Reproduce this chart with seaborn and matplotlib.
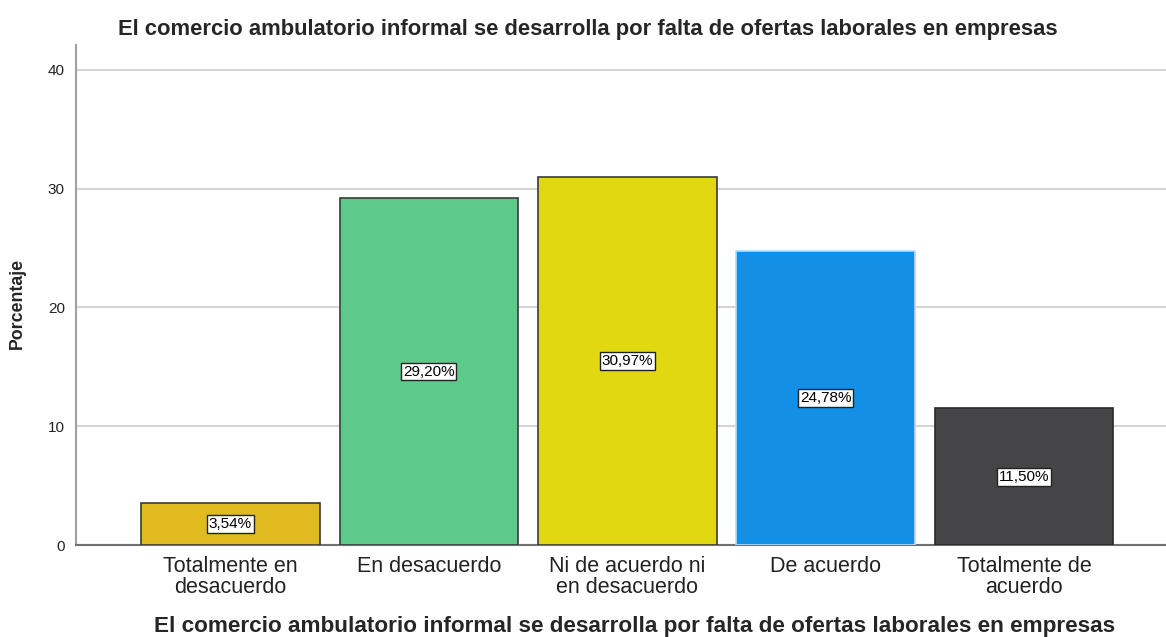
import matplotlib
matplotlib.use("Agg")
import matplotlib.pyplot as plt
import seaborn as sns
import pandas as pd

# Data
categorias = ["Totalmente en\ndesacuerdo", "En desacuerdo", "Ni de acuerdo ni\nen desacuerdo",
              "De acuerdo", "Totalmente de\nacuerdo"]
porcentajes = [3.54, 29.20, 30.97, 24.78, 11.50]
etiquetas = ["3,54%", "29,20%", "30,97%", "24,78%", "11,50%"]
colores = ["#E0BA1F", "#5DCA8A", "#E2D811", "#1390E6", "#454547"]
bordes = ["#3a3a3a", "#3a3a3a", "#3a3a3a", "#b8dcf6", "#2a2a2a"]

titulo = "El comercio ambulatorio informal se desarrolla por falta de ofertas laborales en empresas"

df = pd.DataFrame({"categoria": categorias, "porcentaje": porcentajes})

sns.set_style("white")
plt.rcParams["font.family"] = ["Liberation Sans", "DejaVu Sans"]

fig = plt.figure(figsize=(11.66, 6.37), dpi=100)
ax = fig.add_axes([0.0652, 0.1444, 0.9348, 0.7849])

sns.barplot(data=df, x="categoria", y="porcentaje", hue="categoria", palette=colores,
            legend=False, width=0.9, saturation=1, ax=ax, zorder=3)

for bar, borde in zip(ax.patches, bordes):
    bar.set_edgecolor(borde)
    bar.set_linewidth(1.2)

# value labels in white boxes at mid-height
for bar, texto in zip(ax.patches, etiquetas):
    ax.text(bar.get_x() + bar.get_width() / 2, bar.get_height() / 2, texto,
            ha="center", va="center", fontsize=11, color="black", zorder=5,
            bbox=dict(boxstyle="square,pad=0.12", fc="white", ec="#222222", lw=1))

ax.set_ylim(0, 42.1)
ax.set_xlim(-0.778, 4.715)
ax.set_yticks([0, 10, 20, 30, 40])
ax.yaxis.grid(True, color="#d4d4d4", lw=1.5, zorder=0)
ax.set_axisbelow(True)

for lado in ["top", "right"]:
    ax.spines[lado].set_visible(False)
ax.spines["left"].set_color("#a0a0a0")
ax.spines["bottom"].set_color("#707070")
ax.spines["left"].set_linewidth(1.5)
ax.spines["bottom"].set_linewidth(1.5)
ax.tick_params(axis="both", length=0)
ax.tick_params(axis="y", labelsize=11, pad=8, labelcolor="#222222")
ax.tick_params(axis="x", labelsize=15.5, pad=8, labelcolor="#222222")
for lbl in ax.get_xticklabels():
    lbl.set_linespacing(1.0)

ax.set_ylabel("Porcentaje", fontsize=12.8, fontweight="bold")
ax.yaxis.set_label_coords(-0.046, 0.484)
ax.set_xlabel(titulo, fontsize=16.2, fontweight="bold")
ax.xaxis.set_label_coords(0.512, -0.142)
fig.text(0.504, 0.953, titulo, fontsize=15.8, fontweight="bold", ha="center", va="center")

fig.savefig("out.png", dpi=100)
